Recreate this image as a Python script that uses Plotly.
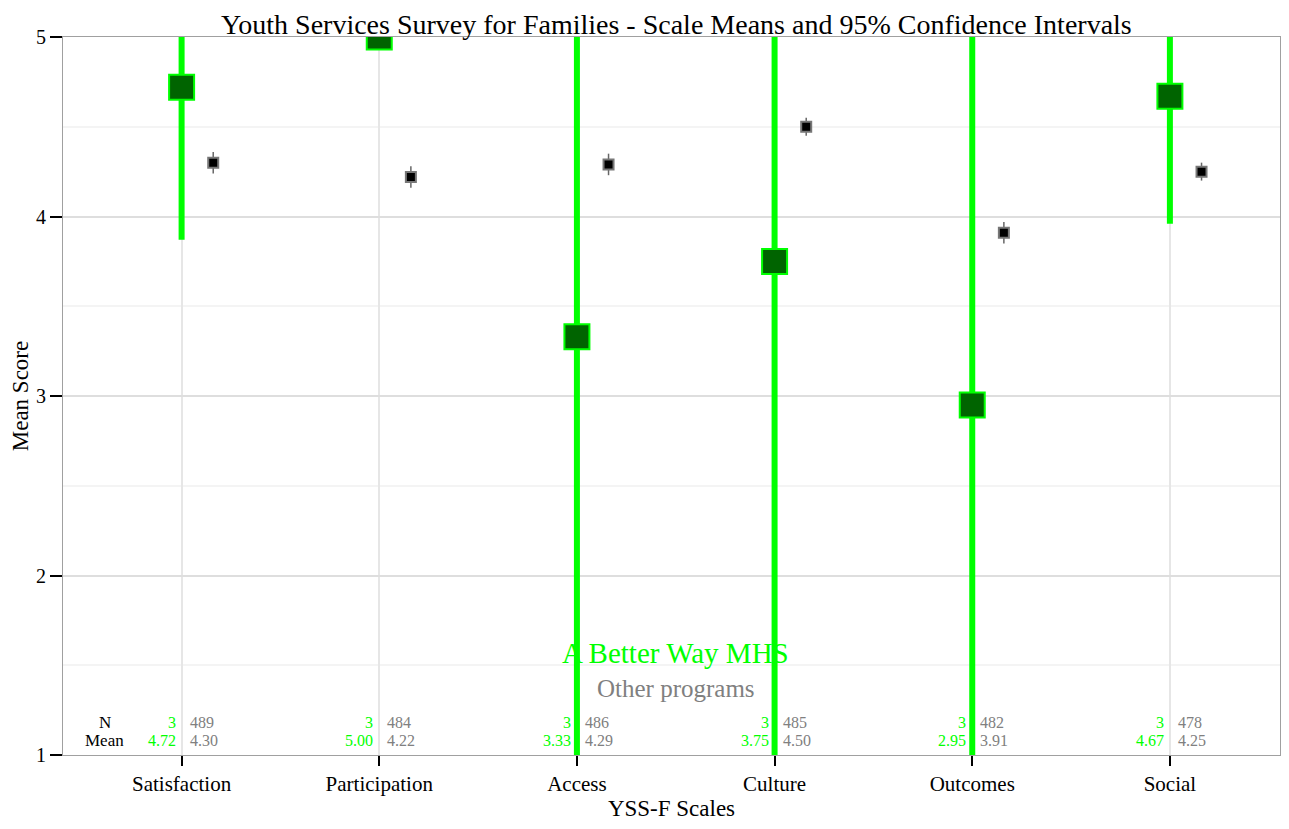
import plotly.graph_objects as go

categories = ["Satisfaction", "Participation", "Access", "Culture", "Outcomes", "Social"]
prog_name = "A Better Way MHS"
other_name = "Other programs"
prog_mean = [4.72, 5.00, 3.33, 3.75, 2.95, 4.67]
prog_n = [3, 3, 3, 3, 3, 3]
prog_ci_half = [0.85, 0.0, 2.6, 3.0, 2.4, 0.71]
other_mean = [4.30, 4.22, 4.29, 4.50, 3.91, 4.25]
other_n = [489, 484, 486, 485, 482, 478]
other_ci_half = [0.06, 0.06, 0.06, 0.05, 0.06, 0.05]

FONT = "Liberation Serif"
LIME = "#00ff00"
GREY = "#808080"

xs = list(range(len(categories)))
x_other = [i + 0.16 for i in xs]

fig = go.Figure()
fig.add_trace(go.Scatter(
    x=xs, y=prog_mean, mode="markers",
    marker=dict(symbol="square", size=25, color="#006400", line=dict(color=LIME, width=2)),
    error_y=dict(type="data", array=prog_ci_half, color=LIME, thickness=6, width=0),
    showlegend=False, cliponaxis=True))
fig.add_trace(go.Scatter(
    x=x_other, y=other_mean, mode="markers",
    marker=dict(symbol="square", size=10, color="black", line=dict(color="#777777", width=2)),
    error_y=dict(type="data", array=other_ci_half, color="#666666", thickness=1.5, width=0),
    showlegend=False, cliponaxis=True))

ann = []
ann.append(dict(x=-0.39, y=1.18, text="N", showarrow=False, xanchor="center", yanchor="middle",
                font=dict(family=FONT, size=17, color="black")))
ann.append(dict(x=-0.39, y=1.08, text="Mean", showarrow=False, xanchor="center", yanchor="middle",
                font=dict(family=FONT, size=17, color="black")))
for i in xs:
    ann.append(dict(x=i - 0.02, y=1.18, text=str(prog_n[i]), showarrow=False, xanchor="right", yanchor="middle",
                    font=dict(family=FONT, size=16, color=LIME)))
    ann.append(dict(x=i - 0.02, y=1.08, text=f"{prog_mean[i]:.2f}", showarrow=False, xanchor="right", yanchor="middle",
                    font=dict(family=FONT, size=16, color=LIME)))
    ann.append(dict(x=i + 0.03, y=1.18, text=str(other_n[i]), showarrow=False, xanchor="left", yanchor="middle",
                    font=dict(family=FONT, size=16, color=GREY)))
    ann.append(dict(x=i + 0.03, y=1.08, text=f"{other_mean[i]:.2f}", showarrow=False, xanchor="left", yanchor="middle",
                    font=dict(family=FONT, size=16, color=GREY)))
ann.append(dict(x=2.5, y=1.57, text=prog_name, showarrow=False, xanchor="center", yanchor="middle",
                font=dict(family=FONT, size=29, color=LIME)))
ann.append(dict(x=2.5, y=1.37, text=other_name, showarrow=False, xanchor="center", yanchor="middle",
                font=dict(family=FONT, size=25, color=GREY)))

fig.update_layout(
    width=1273, height=821,
    margin=dict(l=55, r=1, t=29, b=74, autoexpand=False),
    paper_bgcolor="white", plot_bgcolor="white",
    title=dict(text="Youth Services Survey for Families - Scale Means and 95% Confidence Intervals",
               x=0.525, xref="container", xanchor="center", y=0.9805, yanchor="middle", yref="container",
               font=dict(family=FONT, size=28, color="black")),
    annotations=ann,
    font=dict(family=FONT, color="black"),
)
fig.update_xaxes(
    range=[-0.6, 5.557], tickmode="array", tickvals=xs, ticktext=categories,
    showgrid=True, gridcolor="#e6e6e6", gridwidth=2, zeroline=False, automargin=False,
    showline=True, mirror=True, linecolor="#a0a0a0", linewidth=1,
    ticks="outside", ticklen=10, tickwidth=2, tickcolor="black",
    tickfont=dict(family=FONT, size=21, color="black"),
    title=dict(text="YSS-F Scales", font=dict(family=FONT, size=23, color="black"), standoff=4),
)
fig.update_yaxes(
    range=[1, 5], tickmode="array", tickvals=[1, 2, 3, 4, 5], automargin=False,
    showgrid=True, gridcolor="#dedede", gridwidth=1.5, zeroline=False,
    minor=dict(tickvals=[1.5, 2.5, 3.5, 4.5], showgrid=True, gridcolor="#f4f4f4", gridwidth=1.5, ticks=""),
    showline=True, mirror=True, linecolor="#a0a0a0", linewidth=1,
    ticks="outside", ticklen=12, tickwidth=2, tickcolor="black",
    tickfont=dict(family=FONT, size=20, color="black"),
    title=dict(text="Mean Score", font=dict(family=FONT, size=23, color="black"), standoff=12),
)

fig.write_html("out.html")
